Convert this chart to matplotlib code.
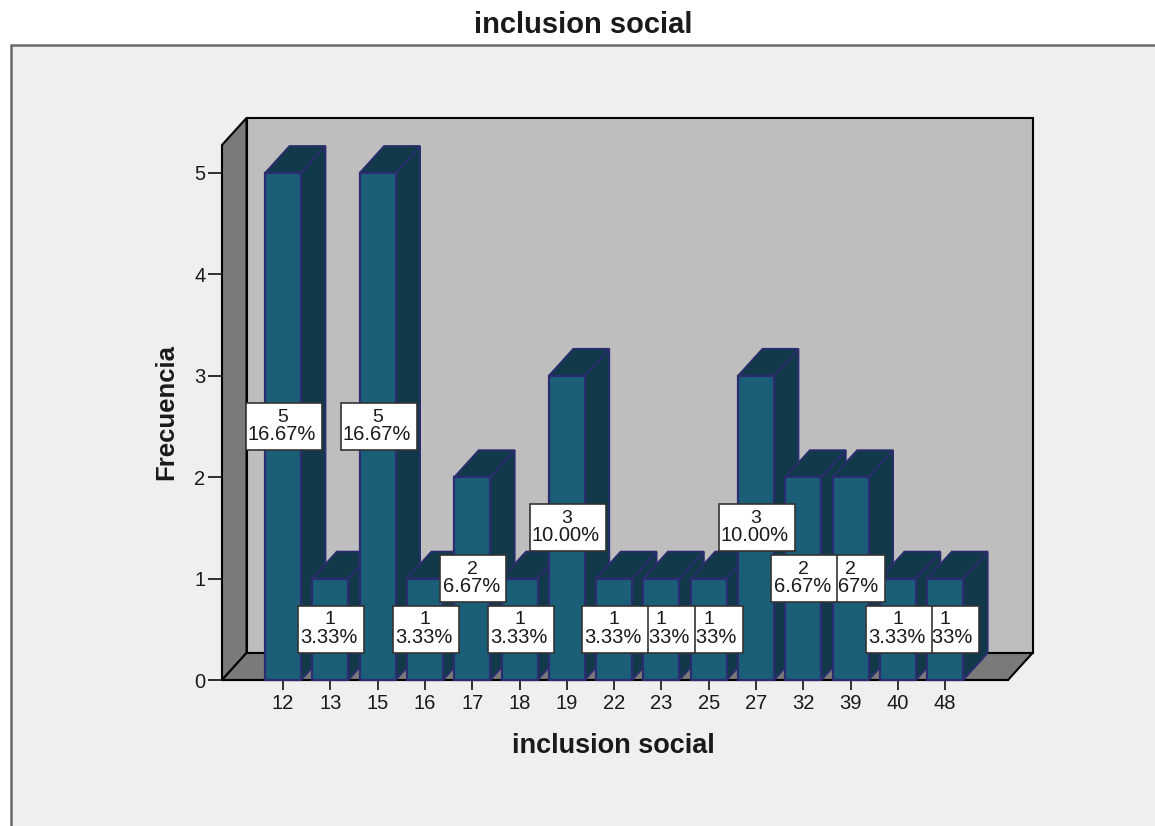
import matplotlib
matplotlib.use("Agg")
import matplotlib.pyplot as plt
from matplotlib.patches import Polygon, Rectangle

# Frequency table for "inclusion social"
categories = ["12", "13", "15", "16", "17", "18", "19", "22", "23", "25", "27", "32", "39", "40", "48"]
counts = [5, 1, 5, 1, 2, 1, 3, 1, 1, 1, 3, 2, 2, 1, 1]
percents = ["16.67%", "3.33%", "16.67%", "3.33%", "6.67%", "3.33%", "10.00%", "3.33%",
            "3.33%", "3.33%", "10.00%", "6.67%", "6.67%", "3.33%", "3.33%"]
y_ticks = [0, 1, 2, 3, 4, 5]

W, H = 1155, 826
FONT = "Liberation Sans"
PANEL, WALL, SHADE = "#efefef", "#bebebe", "#7a7a7a"
FRONT, SIDE, EDGE = "#1b5e78", "#12394a", "#2b2d70"
INK = "#1a1a1a"

fig = plt.figure(figsize=(W / 100, H / 100), dpi=100, facecolor="white")

# Outer chart frame, open to the right and bottom edges
fig.patches.append(Rectangle((11 / W, -0.02), 1.05, (H - 45) / H + 0.02, transform=fig.transFigure,
                             facecolor=PANEL, edgecolor="#6a6a6a", linewidth=1.8, zorder=-5))

# Axes span the front plane of the 3D box
left_px, right_px, base_px, top_px = 222, 1008, 680, 145
ax = fig.add_axes([left_px / W, 1 - base_px / H, (right_px - left_px) / W, (base_px - top_px) / H])
ax.patch.set_visible(False)
for s in ax.spines.values():
    s.set_visible(False)

px_x, px_y = 47.3, 101.4     # pixels per category / per count
x0 = (left_px - 283) / px_x
x1 = (right_px - 283) / px_x
y1 = (base_px - top_px) / px_y
ax.set_xlim(x0, x1)
ax.set_ylim(0, y1)

dx, dy = 24.5 / px_x, 27 / px_y   # oblique depth of the box


def poly(pts, fc, ec="black", lw=1.5, z=1):
    ax.add_patch(Polygon(pts, closed=True, facecolor=fc, edgecolor=ec, linewidth=lw,
                         zorder=z, clip_on=False, joinstyle="miter"))


# Back wall, side wall and floor
poly([(x0 + dx, dy), (x1 + dx, dy), (x1 + dx, y1 + dy), (x0 + dx, y1 + dy)], WALL)
poly([(x0, 0), (x0, y1), (x0 + dx, y1 + dy), (x0 + dx, dy)], SHADE)
poly([(x0, 0), (x1, 0), (x1 + dx, dy), (x0 + dx, dy)], SHADE)

# 3D bars, left to right so each one covers its neighbour's side face
half = 18 / px_x
for i, v in enumerate(counts):
    z = 2 + i * 0.01
    poly([(i + half, 0), (i + half + dx, dy), (i + half + dx, v + dy), (i + half, v)], SIDE, EDGE, 1.3, z)
    poly([(i - half, v), (i + half, v), (i + half + dx, v + dy), (i - half + dx, v + dy)], SIDE, EDGE, 1.3, z)
    ax.add_patch(Rectangle((i - half, 0), 2 * half, v, facecolor=FRONT, edgecolor=EDGE,
                           linewidth=1.6, zorder=z + 0.001, clip_on=False))

# Value labels: earlier labels sit on top of later ones
for i, (v, p) in enumerate(zip(counts, percents)):
    z = 5 + (len(counts) - i) * 0.1
    w = (76 if len(p) == 6 else 66) / px_x
    h = 47 / px_y
    cx = i + 1 / px_x
    ax.add_patch(Rectangle((cx - w / 2, v / 2 - h / 2), w, h, facecolor="white", edgecolor="#333333",
                           linewidth=1.2, zorder=z, clip_on=False))
    ax.text(cx - 1 / px_x, v / 2 + 9.5 / px_y, str(v), ha="center", va="center", family=FONT, fontsize=14,
            color=INK, zorder=z + 0.01)
    ax.text(cx - 2 / px_x, v / 2 - 8 / px_y, p, ha="center", va="center", family=FONT, fontsize=14.5,
            color=INK, zorder=z + 0.01)

# Axis ticks and labels
ax.set_xticks(range(len(categories)), categories, family=FONT, fontsize=14.5, color=INK)
ax.set_yticks(y_ticks, [str(t) for t in y_ticks], family=FONT, fontsize=14.5, color=INK)
ax.tick_params(axis="x", length=7, width=1.3, color="#222222", pad=3)
ax.tick_params(axis="y", length=10, width=1.3, color="#222222", pad=2)
ax.plot([x0, x1], [0, 0], color="black", lw=1.5, zorder=1.5, clip_on=False)

ax.set_xlabel("inclusion social", family=FONT, fontsize=19.5, fontweight="bold", color=INK)
ax.xaxis.set_label_coords((613 - left_px) / (right_px - left_px), -(746 - base_px) / (base_px - top_px))
ax.xaxis.label.set_verticalalignment("center")
ax.set_ylabel("Frecuencia", family=FONT, fontsize=18.5, fontweight="bold", color=INK)
ax.yaxis.set_label_coords((166 - left_px) / (right_px - left_px), (base_px - 412) / (base_px - top_px))
ax.yaxis.label.set_verticalalignment("center")

fig.text(583 / W, 1 - 25 / H, "inclusion social", ha="center", va="center", family=FONT,
         fontsize=21, fontweight="bold", color=INK)

fig.savefig("out.png", dpi=100, facecolor=fig.get_facecolor())
